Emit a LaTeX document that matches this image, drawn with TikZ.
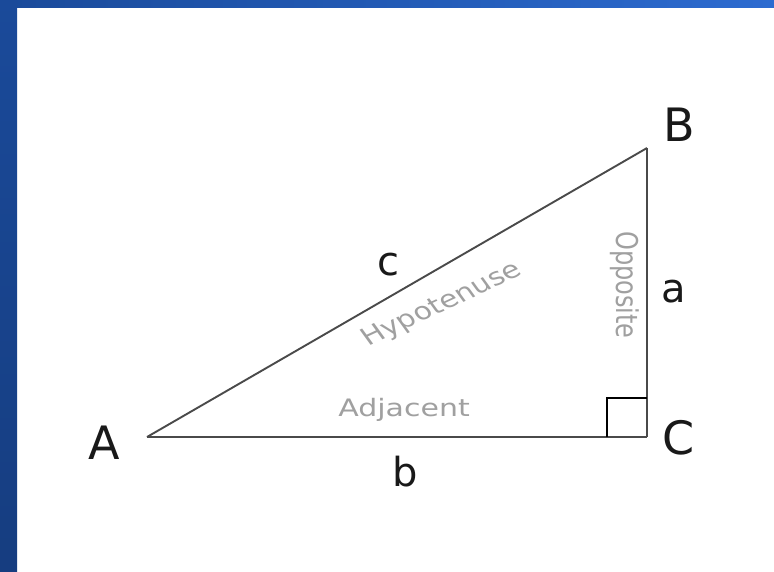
\documentclass[tikz,border=0pt]{standalone}
\usepackage{fontspec}
\setmainfont{DejaVu Sans}
\usepackage{xcolor}
\usetikzlibrary{positioning}
\definecolor{framedark}{HTML}{163D80}
\definecolor{frametop}{HTML}{1A4A9A}
\definecolor{frameright}{HTML}{2C6BD0}
\definecolor{edgegray}{HTML}{4A4A4A}
\definecolor{namegray}{HTML}{A0A0A0}

\begin{document}
\begin{tikzpicture}[x=1pt, y=-1pt,
    bigletter/.style={inner sep=0pt, text=black!90, font=\fontsize{46}{46}\selectfont},
    smallletter/.style={inner sep=0pt, text=black!90, font=\fontsize{40}{40}\selectfont},
    sidename/.style={inner sep=0pt, text=namegray, font=\fontsize{24}{24}\selectfont, xscale=1.25, transform shape},
    edge/.style={draw=edgegray, line width=1.9pt}]

        % Frame
        \useasboundingbox (0,0) rectangle (774,571);
        \fill[white] (0,0) rectangle (774,571);
        \shade[left color=frametop, right color=frameright] (0,0) rectangle (774,7);
        \shade[top color=frametop, bottom color=framedark] (0,0) rectangle (17,571);

        % Define the corners
        \coordinate (A) at (147,437);
        \coordinate (B) at (647,148);
        \coordinate (C) at (647,437);

        % Sides
        \draw[edge] (A) -- (B);
        \draw[edge] (B) -- (C);
        \draw[edge] (C) -- (A);

        % Right angle
        \draw[black, line width=1.9pt] (C) ++(-40,0) coordinate (sqA) -- ++(0,-39) -- ++(40,0);

        % Corner labels
        \node[bigletter] (labA) at (104,443) {A};
        \node[bigletter] (labB) at (679,125) {B};
        \node[bigletter] (labC) at (679,438) {C};

        % Side labels
        \node[smallletter] (laba) at (674,292) {a};
        \node[smallletter] (labb) at (405,472) {b};
        \node[smallletter] (labc) at (388,265) {c};

        % Names of the sides
        \node[sidename, rotate=30.1] (hyp) at (442,305) {Hypotenuse};
        \node[sidename, rotate=-90] (opp) at (625,285) {Opposite};
        \node[sidename] (adj) at (404,410) {Adjacent};
\end{tikzpicture}
\end{document}
